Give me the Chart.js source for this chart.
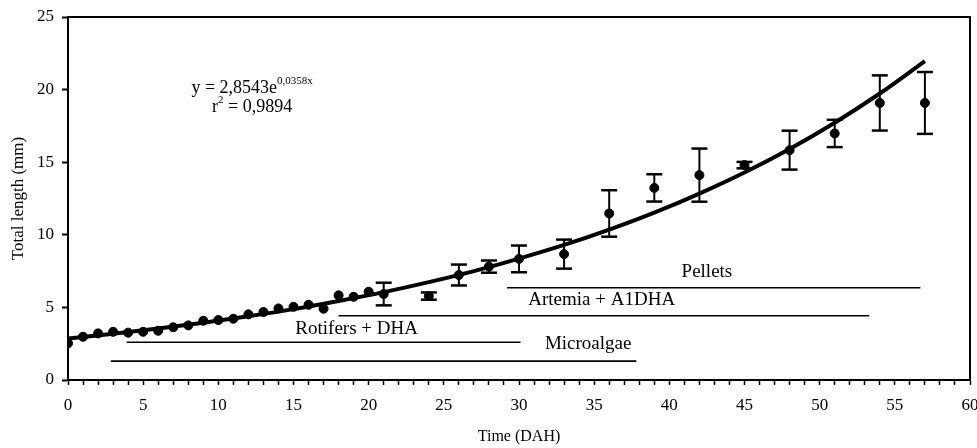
<!DOCTYPE html>
<html>
<head>
<meta charset="utf-8">
<script src="https://cdn.jsdelivr.net/npm/chart.js@4/dist/chart.umd.min.js"></script>
<style>
    body { margin: 0; background: #fff; }
</style>
</head>
<body>
<canvas id="myChart" width="977" height="448"></canvas>
<script>
// measured larvae (mean total length per day)
const days = [0, 1, 2, 3, 4, 5, 6, 7, 8, 9, 10, 11, 12, 13, 14, 15, 16, 17, 18, 19, 20,
    21, 24, 26, 28, 30, 33, 36, 39, 42, 45, 48, 51, 54, 57];
const lengths = [2.53, 2.98, 3.21, 3.32, 3.26, 3.32, 3.39, 3.63, 3.76, 4.08, 4.13, 4.22, 4.52, 4.68, 4.93, 5.04, 5.18, 4.91, 5.83, 5.73, 6.08,
    5.92, 5.78, 7.23, 7.81, 8.34, 8.67, 11.47, 13.23, 14.11, 14.8, 15.83, 16.98, 19.08, 19.08];
// standard deviation (0 = no bar drawn)
const errors = [0, 0, 0, 0, 0, 0, 0, 0, 0, 0, 0, 0, 0, 0, 0, 0, 0, 0, 0, 0, 0,
    0.78, 0.25, 0.72, 0.42, 0.92, 1.0, 1.6, 0.94, 1.83, 0.22, 1.34, 0.94, 1.9, 2.13];

// exponential trend line
const trendDays = [0, 3, 6, 9, 12, 15, 18, 21, 24, 27, 30, 33, 36, 39, 42, 45, 48, 51, 54, 57];
const trendLengths = [2.85, 3.18, 3.54, 3.94, 4.39, 4.88, 5.44, 6.05, 6.74, 7.50, 8.36, 9.30, 10.36, 11.53, 12.84, 14.29, 15.91, 17.72, 19.73, 21.96];

// feeding periods
const periodNames = ['Microalgae', 'Rotifers + DHA', 'Artemia + A1DHA', 'Pellets'];
const periodStart = [2.85, 3.9, 18, 29.2];
const periodEnd = [37.8, 30.1, 53.3, 56.7];
const periodLevel = [1.3, 2.6, 4.42, 6.35];
const periodLabelX = [34.6, 19.2, 35.5, 42.5];
const periodLabelY = [2.45, 3.5, 5.5, 7.45];

const xTicks = [0, 5, 10, 15, 20, 25, 30, 35, 40, 45, 50, 55, 60];
const yTicks = [0, 5, 10, 15, 20, 25];

const serif = '"Liberation Serif", "Times New Roman", serif';

const points = days.map((d, i) => ({ x: d, y: lengths[i] }));
const trend = trendDays.map((d, i) => ({ x: d, y: trendLengths[i] }));

const errorPoints = [];
days.forEach((d, i) => {
    if (!errors[i]) return;
    errorPoints.push({ x: d, y: lengths[i] - errors[i] });
    errorPoints.push({ x: d, y: lengths[i] + errors[i] });
    errorPoints.push({ x: d, y: null });
});

const periodPoints = [];
periodNames.forEach((name, i) => {
    periodPoints.push({ x: periodStart[i], y: periodLevel[i] });
    periodPoints.push({ x: periodEnd[i], y: periodLevel[i] });
    periodPoints.push({ x: periodEnd[i], y: null });
});

//frame round the plot area + text annotations
const annotations = {
    id: 'annotations',
    afterDatasetsDraw(chart) {
        const { ctx, chartArea, scales } = chart;
        ctx.save();
        ctx.strokeStyle = '#000';
        ctx.lineWidth = 2;
        ctx.strokeRect(chartArea.left, chartArea.top, chartArea.right - chartArea.left, chartArea.bottom - chartArea.top);

        ctx.fillStyle = '#000';
        ctx.textBaseline = 'middle';
        ctx.textAlign = 'center';
        ctx.font = '19px ' + serif;
        periodNames.forEach((name, i) => {
            ctx.fillText(name, scales.x.getPixelForValue(periodLabelX[i]), scales.y.getPixelForValue(periodLabelY[i]));
        });

        // equation
        ctx.textAlign = 'left';
        const big = '18px ' + serif;
        const small = '11px ' + serif;
        const cx = scales.x.getPixelForValue(12.25);
        let cy = scales.y.getPixelForValue(20.1);
        ctx.font = big;
        const w1 = ctx.measureText('y = 2,8543e').width;
        ctx.font = small;
        const w2 = ctx.measureText('0,0358x').width;
        let x0 = cx - (w1 + w2) / 2;
        ctx.font = big;
        ctx.fillText('y = 2,8543e', x0, cy);
        ctx.font = small;
        ctx.fillText('0,0358x', x0 + w1, cy - 7);

        cy = scales.y.getPixelForValue(18.8);
        ctx.font = big;
        const wr = ctx.measureText('r').width;
        const wrest = ctx.measureText(' = 0,9894').width;
        ctx.font = small;
        const ws = ctx.measureText('2').width;
        x0 = cx - (wr + ws + wrest) / 2;
        ctx.font = big;
        ctx.fillText('r', x0, cy);
        ctx.fillText(' = 0,9894', x0 + wr + ws, cy);
        ctx.font = small;
        ctx.fillText('2', x0 + wr, cy - 7);
        ctx.restore();
    }
};

const ctx = document.getElementById('myChart');
new Chart(ctx, {
    type: 'scatter',
    data: {
        datasets: [
            {
                label: 'Feeding',
                data: periodPoints,
                showLine: true,
                spanGaps: false,
                borderColor: '#000',
                borderWidth: 1.6,
                pointRadius: 0
            },
            {
                label: 'SD',
                data: errorPoints,
                showLine: true,
                spanGaps: false,
                borderColor: '#000',
                borderWidth: 2,
                pointStyle: 'line',
                pointRadius: 8,
                pointBorderWidth: 2.5,
                pointBorderColor: '#000'
            },
            {
                label: 'Trend',
                data: trend,
                showLine: true,
                cubicInterpolationMode: 'monotone',
                borderColor: '#000',
                borderWidth: 4,
                pointRadius: 0
            },
            {
                label: 'Total length',
                data: points,
                backgroundColor: '#000',
                borderColor: '#000',
                pointRadius: 4.5
            }
        ]
    },
    options: {
        responsive: false,
        animation: false,
        layout: {
            autoPadding: false,
            padding: { top: 17, right: 7, left: 0, bottom: 0 }
        },
        plugins: {
            legend: { display: false },
            tooltip: { enabled: false }
        },
        scales: {
            x: {
                type: 'linear',
                min: 0,
                max: 60,
                afterFit: scale => {
                    scale.height = 68;
                    scale.paddingLeft = 0;
                    scale.paddingRight = 0;
                },
                border: { color: '#000', width: 2 },
                grid: {
                    drawOnChartArea: false,
                    tickLength: 5,
                    tickColor: '#000',
                    tickWidth: 1.5
                },
                ticks: {
                    stepSize: 1,
                    autoSkip: false,
                    maxRotation: 0,
                    padding: 10,
                    color: '#000',
                    font: { family: serif, size: 17 },
                    callback: v => xTicks.includes(v) ? String(v) : ''
                },
                title: {
                    display: true,
                    text: 'Time (DAH)',
                    color: '#000',
                    font: { family: serif, size: 16 },
                    padding: { top: 0, bottom: 2 }
                }
            },
            y: {
                min: 0,
                max: 25,
                afterFit: scale => {
                    scale.width = 68;
                    scale.paddingTop = 0;
                    scale.paddingBottom = 0;
                },
                border: { color: '#000', width: 2 },
                grid: {
                    drawOnChartArea: false,
                    tickLength: 6,
                    tickColor: '#000',
                    tickWidth: 2
                },
                ticks: {
                    stepSize: 5,
                    padding: 8,
                    color: '#000',
                    font: { family: serif, size: 17 },
                    callback: v => yTicks.includes(v) ? String(v) : ''
                },
                title: {
                    display: true,
                    text: 'Total length (mm)',
                    color: '#000',
                    font: { family: serif, size: 17 },
                    padding: { top: 8, bottom: 0 }
                }
            }
        }
    },
    plugins: [annotations]
});
</script>
</body>
</html>
